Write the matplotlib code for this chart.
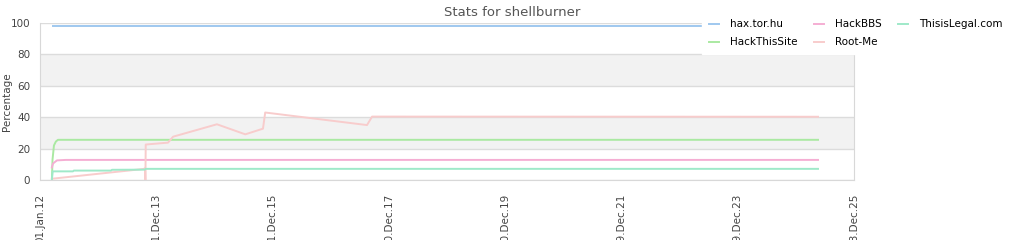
import datetime as dt
import matplotlib
matplotlib.use("Agg")
import matplotlib.pyplot as plt
import matplotlib.dates as mdates

# data (date, percentage)
hax_dates = ["2012-03-21", "2025-05-16"]
hax_vals = [98.3, 98.3]

hbbs_dates = ["2012-03-16", "2012-03-23", "2012-04-17", "2012-06-12", "2025-05-16"]
hbbs_vals = [8.0, 10.5, 12.5, 12.8, 12.8]

legal_dates = ["2012-03-16", "2012-03-21", "2012-07-26", "2012-08-01", "2013-03-22",
               "2013-03-28", "2013-10-20", "2013-10-26", "2025-05-16"]
legal_vals = [0.0, 5.5, 5.5, 6.0, 6.0, 6.5, 6.6, 7.1, 7.1]

hts_dates = ["2012-03-16", "2012-03-20", "2012-03-29", "2012-04-10", "2012-04-23", "2025-05-16"]
hts_vals = [0.0, 13.0, 22.0, 24.5, 25.6, 25.6]

root_dates = ["2012-03-16", "2013-10-09", "2013-10-22", "2013-10-24", "2013-10-26",
              "2014-03-15", "2014-04-16", "2015-01-16", "2015-07-13", "2015-11-01",
              "2015-11-15", "2017-08-15", "2017-09-16", "2025-05-16"]
root_vals = [0.8, 7.0, 7.3, 0.0, 22.6, 23.8, 27.6, 35.5, 29.1, 32.7, 43.0, 35.0, 40.4, 40.3]

series = [
    ("hax.tor.hu", hax_dates, hax_vals, "#9fc8ef"),
    ("HackThisSite", hts_dates, hts_vals, "#aae9a2"),
    ("HackBBS", hbbs_dates, hbbs_vals, "#f5aed3"),
    ("Root-Me", root_dates, root_vals, "#f8cccc"),
    ("ThisisLegal.com", legal_dates, legal_vals, "#9fe9c9"),
]

def to_dates(lst):
    return [dt.datetime.strptime(s, "%Y-%m-%d") for s in lst]

fig = plt.figure(figsize=(10.24, 2.4), dpi=100)
ax = fig.add_axes([0.039, 0.25, 0.795, 0.654])

x0 = dt.datetime(2012, 1, 1)
x1 = dt.datetime(2025, 12, 28)

# alternating bands
for lo in (20, 60):
    ax.axhspan(lo, lo + 20, color="#f2f2f2", zorder=0, lw=0)
for y in range(0, 101, 20):
    ax.axhline(y, color="#dcdcdc", lw=1.0, zorder=1)

handles = {}
for name, d, v, c in series:
    ln, = ax.plot(to_dates(d), v, color=c, lw=1.4, label=name, zorder=3)
    handles[name] = ln

ax.set_xlim(x0, x1)
ax.set_ylim(0, 100)
ticks = [x0 + dt.timedelta(days=730 * i) for i in range(8)]
ax.set_xticks(ticks)
ax.xaxis.set_major_formatter(mdates.DateFormatter("%d.%b.%y"))
ax.set_yticks(range(0, 101, 20))
ax.tick_params(axis="both", length=0, labelsize=7.5, labelcolor="#444444")
ax.tick_params(axis="x", pad=10)
ax.tick_params(axis="y", pad=7)
for lbl in ax.get_xticklabels():
    lbl.set_rotation(90)
    lbl.set_va("top")
    lbl.set_ha("center")

for s in ax.spines.values():
    s.set_color("#d8d8d8")
ax.spines["top"].set_visible(False)

ax.set_ylabel("Percentage", fontsize=7.5, color="#444444")
ax.yaxis.set_label_coords(-0.034, 0.5)
fig.text(0.5, 0.95, "Stats for shellburner", ha="center", va="center",
         fontsize=9.5, color="#555555")

leg = fig.legend(handles=[h for h in handles.values()], ncol=3, loc="upper left",
                 bbox_to_anchor=(0.686, 0.945), frameon=True, fontsize=7.5,
                 handlelength=1.0, handletextpad=1.0, columnspacing=1.6,
                 labelspacing=0.75, borderpad=0.6, borderaxespad=0)
leg.get_frame().set_facecolor("white")
leg.get_frame().set_edgecolor("white")
leg.get_frame().set_alpha(1.0)
leg.get_frame().set_boxstyle("square", pad=0.0)

fig.savefig("out.png", dpi=100)
